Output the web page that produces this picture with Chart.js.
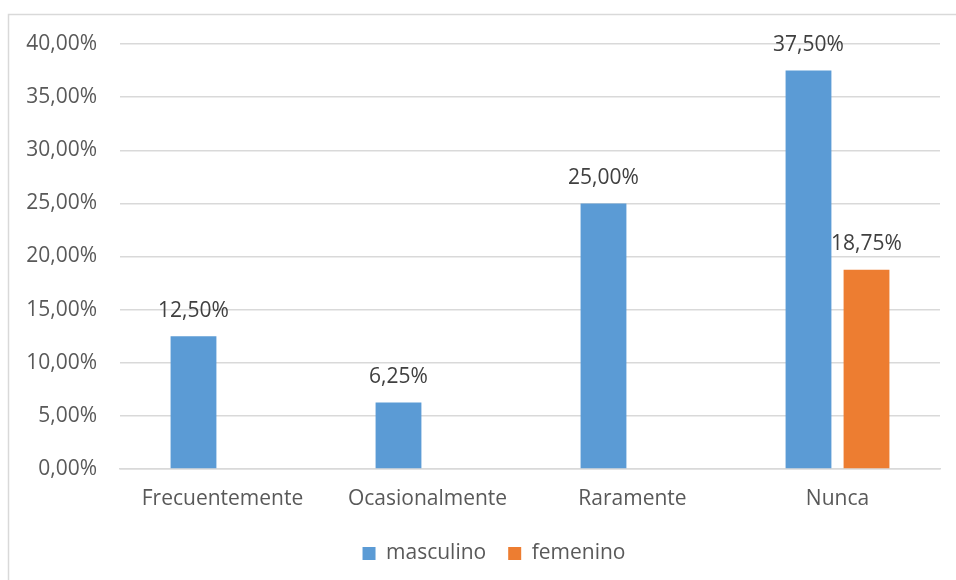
<!DOCTYPE html>
<html>
<head>
    <title>Frecuencia por sexo</title>
    <script src="https://cdn.jsdelivr.net/npm/chart.js"></script>
    <style>
        html, body { margin: 0; padding: 0; background: #fff; overflow: hidden; }
        #chartBox { width: 986px; height: 580px; }
    </style>
</head>
<body>
    <div id="chartBox">
        <canvas id="freqChart" width="986" height="580"></canvas>
    </div>

    <script>
        const categories = ['Frecuentemente', 'Ocasionalmente', 'Raramente', 'Nunca'];
        const masculino = [12.5, 6.25, 25, 37.5];
        const femenino = [null, null, null, 18.75];
        const yTicks = { min: 0, max: 40, step: 5 };

        const FONT = "'Open Sans', sans-serif";

        // 12.5 -> "12,50%"
        function pct(v) {
            return v.toFixed(2).replace('.', ',') + '%';
        }

        // light frame around the whole chart
        const frame = {
            id: 'frame',
            beforeDraw(chart) {
                const ctx = chart.ctx;
                ctx.save();
                ctx.strokeStyle = '#d9d9d9';
                ctx.lineWidth = 1.5;
                ctx.strokeRect(8.5, 14.5, 2000, 2000);
                ctx.restore();
            }
        };

        // center the legend on the frame rather than on the plot
        const legendShift = {
            id: 'legendShift',
            afterLayout(chart) {
                const lg = chart.legend;
                if (!lg) return;
                lg.left += 24;
                lg.right += 24;
            }
        };

        // value labels above each bar
        const barLabels = {
            id: 'barLabels',
            afterDatasetsDraw(chart) {
                const ctx = chart.ctx;
                ctx.save();
                ctx.font = '21px ' + FONT;
                ctx.fillStyle = '#404040';
                ctx.textAlign = 'center';
                ctx.textBaseline = 'bottom';
                chart.data.datasets.forEach((ds, i) => {
                    chart.getDatasetMeta(i).data.forEach((bar, j) => {
                        const v = ds.data[j];
                        if (v === null || v === undefined) return;
                        ctx.fillText(pct(v), bar.x, bar.y - 15);
                    });
                });
                ctx.restore();
            }
        };

        const ctx = document.getElementById('freqChart').getContext('2d');
        new Chart(ctx, {
            type: 'bar',
            data: {
                labels: categories,
                datasets: [
                    {
                        label: 'masculino',
                        data: masculino,
                        backgroundColor: '#5b9bd5',
                        categoryPercentage: 0.566,
                        barPercentage: 0.79
                    },
                    {
                        label: 'femenino',
                        data: femenino,
                        backgroundColor: '#ed7d31',
                        categoryPercentage: 0.566,
                        barPercentage: 0.79
                    }
                ]
            },
            options: {
                responsive: false,
                animation: false,
                layout: {
                    padding: { left: 0, right: 46, top: 44, bottom: 6 }
                },
                plugins: {
                    legend: {
                        position: 'bottom',
                        labels: {
                            boxWidth: 13,
                            boxHeight: 13,
                            padding: 22,
                            color: '#595959',
                            font: { family: FONT, size: 21 }
                        }
                    },
                    tooltip: { enabled: false }
                },
                scales: {
                    x: {
                        grid: { display: false },
                        border: { color: '#d9d9d9', width: 1.5 },
                        ticks: {
                            color: '#595959',
                            padding: 9,
                            font: { family: FONT, size: 21 }
                        },
                        afterFit(scale) { scale.height = 52; }
                    },
                    y: {
                        min: yTicks.min,
                        max: yTicks.max,
                        border: { display: false },
                        grid: { color: '#d9d9d9', lineWidth: 1.5, drawTicks: false },
                        ticks: {
                            stepSize: yTicks.step,
                            color: '#595959',
                            padding: 23,
                            font: { family: FONT, size: 21 },
                            callback: v => pct(v)
                        },
                        afterFit(scale) { scale.width = 120; }
                    }
                }
            },
            plugins: [frame, legendShift, barLabels]
        });
    </script>
</body>
</html>
